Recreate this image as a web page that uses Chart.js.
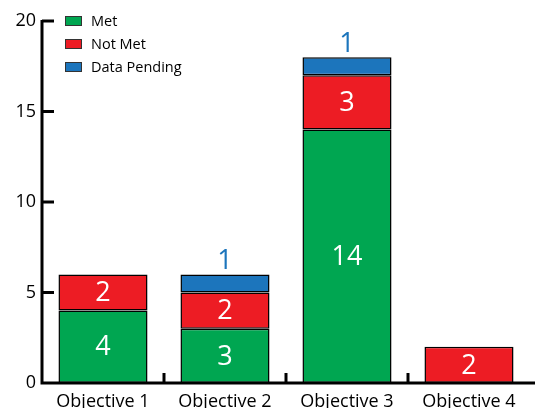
<!DOCTYPE html>
<html>
<head>
<meta charset="utf-8">
<script src="https://cdn.jsdelivr.net/npm/chart.js@4"></script>
<style>
html, body { margin: 0; padding: 0; background: #fff; }
#wrap { width: 535px; height: 408px; }
</style>
</head>
<body>
<div id="wrap"><canvas id="chartObjetivos" width="535" height="408"></canvas></div>
<script>
// chart data
var categories = ['Objective 1', 'Objective 2', 'Objective 3', 'Objective 4'];
var metValues = [4, 3, 14, 0];
var notMetValues = [2, 2, 3, 2];
var pendingValues = [0, 1, 1, 0];
var yTicks = [0, 5, 10, 15, 20];

var FONT = '"Open Sans", sans-serif';

// axes, inner ticks, value labels and legend
var decorPlugin = {
  id: 'decor',
  afterDatasetsDraw: function(chart) {
    var ctx = chart.ctx;
    var area = chart.chartArea;
    var xs = chart.scales.x;
    var ys = chart.scales.y;

    ctx.save();
    ctx.strokeStyle = '#000';
    ctx.lineWidth = 3;
    ctx.beginPath();
    ctx.moveTo(area.left, ys.getPixelForValue(20) - 1);
    ctx.lineTo(area.left, area.bottom);
    ctx.lineTo(chart.width, area.bottom);
    ctx.stroke();

    // y ticks point inward
    for (var i = 1; i < yTicks.length; i++) {
      var py = ys.getPixelForValue(yTicks[i]);
      ctx.beginPath();
      ctx.moveTo(area.left, py);
      ctx.lineTo(area.left + 12, py);
      ctx.stroke();
    }
    // x ticks between categories
    for (var c = 1; c < categories.length; c++) {
      var px = (xs.getPixelForValue(c - 1) + xs.getPixelForValue(c)) / 2;
      ctx.beginPath();
      ctx.moveTo(px, area.bottom);
      ctx.lineTo(px, area.bottom - 10);
      ctx.stroke();
    }

    // value labels
    ctx.textAlign = 'center';
    ctx.textBaseline = 'middle';
    ctx.font = '27px ' + FONT;
    chart.data.datasets.forEach(function(ds, di) {
      var meta = chart.getDatasetMeta(di);
      meta.data.forEach(function(el, j) {
        var v = ds.data[j];
        if (!v) return;
        if (ds.label === 'Data Pending') {
          ctx.fillStyle = '#1c75bc';
          ctx.fillText(String(v), el.x, el.y - 13);
        } else {
          ctx.fillStyle = '#fff';
          ctx.fillText(String(v), el.x, (el.y + el.base) / 2 + 1);
        }
      });
    });

    // legend in top-left corner
    ctx.font = '14.5px ' + FONT;
    ctx.textAlign = 'left';
    ctx.lineWidth = 1;
    chart.data.datasets.forEach(function(ds, di) {
      var cy = 21 + di * 23;
      ctx.fillStyle = ds.backgroundColor;
      ctx.fillRect(65, cy - 5, 17, 10);
      ctx.strokeStyle = '#333';
      ctx.strokeRect(65.5, cy - 4.5, 16, 9);
      ctx.fillStyle = '#000';
      ctx.fillText(ds.label, 91, cy + 1);
    });
    ctx.restore();
  }
};

var ctx = document.getElementById('chartObjetivos');
new Chart(ctx, {
  type: 'bar',
  data: {
    labels: categories,
    datasets: [
      { label: 'Met', data: metValues, backgroundColor: '#00a651' },
      { label: 'Not Met', data: notMetValues, backgroundColor: '#ed1c24' },
      { label: 'Data Pending', data: pendingValues, backgroundColor: '#1c75bc' }
    ].map(function(d) {
      d.borderColor = '#000';
      d.borderWidth = 1.5;
      d.borderSkipped = false;
      d.barPercentage = 0.73;
      d.categoryPercentage = 1;
      return d;
    })
  },
  options: {
    responsive: false,
    animation: false,
    layout: { padding: { top: 21, right: 5, left: 0, bottom: 0 } },
    plugins: {
      legend: { display: false },
      tooltip: { enabled: false }
    },
    scales: {
      x: {
        stacked: true,
        grid: { display: false, drawTicks: false },
        border: { display: false },
        ticks: { color: '#000', font: { family: FONT, size: 18 }, padding: 8, maxRotation: 0 },
        afterFit: function(s) { s.height = 25; }
      },
      y: {
        stacked: true,
        min: 0,
        max: 20,
        grid: { display: false, drawTicks: false },
        border: { display: false },
        ticks: { stepSize: 5, color: '#000', font: { family: FONT, size: 18 }, padding: 6 },
        afterFit: function(s) { s.width = 42; }
      }
    }
  },
  plugins: [decorPlugin]
});
</script>
</body>
</html>
